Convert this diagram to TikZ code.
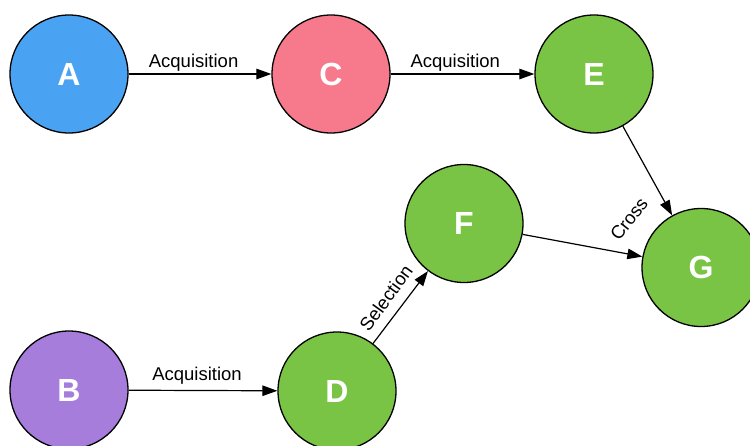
\documentclass[tikz,border=0pt]{standalone}
\usepackage{fontspec}
\setmainfont{Liberation Sans}
\usetikzlibrary{arrows.meta}
\definecolor{cblue}{RGB}{74,163,242}
\definecolor{cpink}{RGB}{246,122,140}
\definecolor{cgreen}{RGB}{122,196,69}
\definecolor{cpurple}{RGB}{166,125,219}
\tikzset{
  state/.style={circle, draw=black, line width=1.3pt, minimum size=118pt, inner sep=0pt,
    text=white, font=\fontsize{32}{32}\selectfont\bfseries},
  conn/.style={line width=1.2pt, -{Triangle[length=15pt,width=10.5pt]}},
  lbl/.style={font=\fontsize{18.5}{18.5}\selectfont, inner sep=1pt, text=black}
}
\begin{document}
\begin{tikzpicture}[x=1pt,y=-1pt]
\useasboundingbox (0,0) rectangle (750,445);
\node[state, fill=cblue] (A) at (69,74) {A};
\node[state, fill=cpink] (C) at (331,74) {C};
\node[state, fill=cgreen] (E) at (594,74) {E};
\node[state, fill=cgreen] (F) at (464,223.5) {F};
\node[state, fill=cgreen] (G) at (701,267.5) {G};
\node[state, fill=cpurple] (B) at (69,390) {B};
\node[state, fill=cgreen] (D) at (337,391) {D};
\draw[conn] (A) -- node[lbl, pos=0.455, above=1pt] {Acquisition} (C);
\draw[conn] (C) -- node[lbl, pos=0.45, above=1pt] {Acquisition} (E);
\draw[conn] (B) -- node[lbl, pos=0.46, above=5pt] {Acquisition} (D);
\draw[conn] (D) -- (F);
\draw[conn] (F) -- (G);
\draw[conn] (E) -- (G);
\node[lbl, rotate=54] (sel) at (386,298) {Selection};
\node[lbl, rotate=52] (cross) at (629,219) {Cross};
\end{tikzpicture}
\end{document}
